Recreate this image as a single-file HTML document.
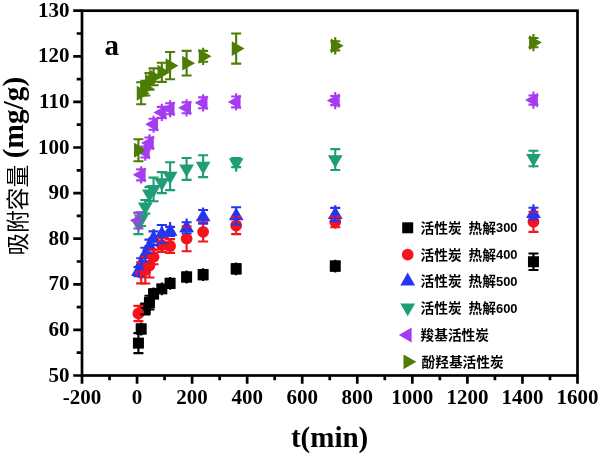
<!DOCTYPE html>
<html><head><meta charset="utf-8"><title>chart</title>
<style>html,body{margin:0;padding:0;background:#fff}svg{display:block;filter:blur(0.35px)}</style></head>
<body><svg width="600" height="455" viewBox="0 0 600 455">
<rect x="0" y="0" width="600" height="455" fill="#fff"/>
<g><rect x="132.93" y="337.62" width="11.00" height="11.00" fill="#000000"/><rect x="135.68" y="323.49" width="11.00" height="11.00" fill="#000000"/><rect x="139.81" y="303.42" width="11.00" height="11.00" fill="#000000"/><rect x="143.94" y="297.04" width="11.00" height="11.00" fill="#000000"/><rect x="148.07" y="288.38" width="11.00" height="11.00" fill="#000000"/><rect x="156.33" y="283.36" width="11.00" height="11.00" fill="#000000"/><rect x="164.59" y="277.89" width="11.00" height="11.00" fill="#000000"/><rect x="181.11" y="271.50" width="11.00" height="11.00" fill="#000000"/><rect x="197.62" y="269.22" width="11.00" height="11.00" fill="#000000"/><rect x="230.66" y="263.30" width="11.00" height="11.00" fill="#000000"/><rect x="329.76" y="260.56" width="11.00" height="11.00" fill="#000000"/><rect x="527.96" y="256.23" width="11.00" height="11.00" fill="#000000"/><circle cx="138.43" cy="313.48" r="5.90" fill="#f5141e"/><polygon points="138.43,263.13 131.03,275.93 145.83,275.93" fill="#2436f0"/><circle cx="141.18" cy="272.90" r="5.90" fill="#f5141e"/><polygon points="141.18,255.38 133.78,268.18 148.58,268.18" fill="#2436f0"/><circle cx="145.31" cy="270.16" r="5.90" fill="#f5141e"/><polygon points="145.31,246.26 137.91,259.06 152.71,259.06" fill="#2436f0"/><circle cx="149.44" cy="265.60" r="5.90" fill="#f5141e"/><polygon points="149.44,238.05 142.04,250.85 156.84,250.85" fill="#2436f0"/><circle cx="153.57" cy="256.94" r="5.90" fill="#f5141e"/><polygon points="153.57,229.84 146.17,242.64 160.97,242.64" fill="#2436f0"/><circle cx="161.83" cy="245.08" r="5.90" fill="#f5141e"/><polygon points="161.83,225.74 154.43,238.54 169.23,238.54" fill="#2436f0"/><circle cx="170.09" cy="246.00" r="5.90" fill="#f5141e"/><polygon points="170.09,223.00 162.69,235.80 177.49,235.80" fill="#2436f0"/><circle cx="186.61" cy="238.70" r="5.90" fill="#f5141e"/><polygon points="186.61,219.36 179.21,232.16 194.01,232.16" fill="#2436f0"/><circle cx="203.12" cy="231.86" r="5.90" fill="#f5141e"/><polygon points="203.12,208.41 195.72,221.21 210.52,221.21" fill="#2436f0"/><circle cx="236.16" cy="225.48" r="5.90" fill="#f5141e"/><polygon points="236.16,207.50 228.76,220.30 243.56,220.30" fill="#2436f0"/><circle cx="335.26" cy="221.83" r="5.90" fill="#f5141e"/><polygon points="335.26,206.13 327.86,218.93 342.66,218.93" fill="#2436f0"/><circle cx="533.46" cy="221.83" r="5.90" fill="#f5141e"/><polygon points="533.46,205.22 526.06,218.02 540.86,218.02" fill="#2436f0"/><polygon points="138.43,232.05 131.03,219.25 145.83,219.25" fill="#1f9d77"/><polygon points="141.18,227.49 133.78,214.69 148.58,214.69" fill="#1f9d77"/><polygon points="145.31,215.18 137.91,202.38 152.71,202.38" fill="#1f9d77"/><polygon points="149.44,202.41 142.04,189.61 156.84,189.61" fill="#1f9d77"/><polygon points="153.57,197.85 146.17,185.05 160.97,185.05" fill="#1f9d77"/><polygon points="161.83,191.01 154.43,178.21 169.23,178.21" fill="#1f9d77"/><polygon points="170.09,184.63 162.69,171.83 177.49,171.83" fill="#1f9d77"/><polygon points="186.61,177.33 179.21,164.53 194.01,164.53" fill="#1f9d77"/><polygon points="203.12,174.60 195.72,161.80 210.52,161.80" fill="#1f9d77"/><polygon points="236.16,170.95 228.76,158.15 243.56,158.15" fill="#1f9d77"/><polygon points="335.26,167.98 327.86,155.18 342.66,155.18" fill="#1f9d77"/><polygon points="533.46,166.84 526.06,154.04 540.86,154.04" fill="#1f9d77"/><polygon points="130.03,220.46 142.83,213.06 142.83,227.86" fill="#a63cf2"/><polygon points="132.78,174.86 145.58,167.46 145.58,182.26" fill="#a63cf2"/><polygon points="136.91,152.06 149.71,144.66 149.71,159.46" fill="#a63cf2"/><polygon points="141.04,142.94 153.84,135.54 153.84,150.34" fill="#a63cf2"/><polygon points="145.17,124.24 157.97,116.84 157.97,131.64" fill="#a63cf2"/><polygon points="153.43,112.39 166.23,104.99 166.23,119.79" fill="#a63cf2"/><polygon points="161.69,108.74 174.49,101.34 174.49,116.14" fill="#a63cf2"/><polygon points="178.21,107.83 191.01,100.43 191.01,115.23" fill="#a63cf2"/><polygon points="194.72,102.81 207.52,95.41 207.52,110.21" fill="#a63cf2"/><polygon points="227.76,101.90 240.56,94.50 240.56,109.30" fill="#a63cf2"/><polygon points="326.86,100.53 339.66,93.13 339.66,107.93" fill="#a63cf2"/><polygon points="525.06,100.08 537.86,92.68 537.86,107.48" fill="#a63cf2"/><polygon points="146.83,150.24 134.03,142.84 134.03,157.64" fill="#4e7d05"/><polygon points="149.58,93.24 136.78,85.84 136.78,100.64" fill="#4e7d05"/><polygon points="153.71,88.22 140.91,80.82 140.91,95.62" fill="#4e7d05"/><polygon points="157.84,81.38 145.04,73.98 145.04,88.78" fill="#4e7d05"/><polygon points="161.97,76.82 149.17,69.42 149.17,84.22" fill="#4e7d05"/><polygon points="170.23,72.26 157.43,64.86 157.43,79.66" fill="#4e7d05"/><polygon points="178.49,65.65 165.69,58.25 165.69,73.05" fill="#4e7d05"/><polygon points="195.01,63.14 182.21,55.74 182.21,70.54" fill="#4e7d05"/><polygon points="211.52,56.30 198.72,48.90 198.72,63.70" fill="#4e7d05"/><polygon points="244.56,48.55 231.76,41.15 231.76,55.95" fill="#4e7d05"/><polygon points="343.66,45.81 330.86,38.41 330.86,53.21" fill="#4e7d05"/><polygon points="541.86,42.62 529.06,35.22 529.06,50.02" fill="#4e7d05"/></g>
<g><path d="M138.43 333.09V353.16M133.43 333.09H143.43M133.43 353.16H143.43" stroke="#000000" stroke-width="2.1" fill="none"/><path d="M141.18 322.59V335.39M136.18 324.43H146.18M136.18 333.55H146.18" stroke="#000000" stroke-width="2.1" fill="none"/><path d="M145.31 302.52V315.32M140.31 303.45H150.31M140.31 314.40H150.31" stroke="#000000" stroke-width="2.1" fill="none"/><path d="M149.44 295.70V309.38M144.44 295.70H154.44M144.44 309.38H154.44" stroke="#000000" stroke-width="2.1" fill="none"/><path d="M153.57 287.48V300.28M148.57 289.32H158.57M148.57 298.44H158.57" stroke="#000000" stroke-width="2.1" fill="none"/><path d="M161.83 282.46V295.26M156.83 285.21H166.83M156.83 292.51H166.83" stroke="#000000" stroke-width="2.1" fill="none"/><path d="M170.09 276.99V289.79M165.09 278.83H175.09M165.09 287.95H175.09" stroke="#000000" stroke-width="2.1" fill="none"/><path d="M186.61 270.60V283.40M181.61 272.44H191.61M181.61 281.56H191.61" stroke="#000000" stroke-width="2.1" fill="none"/><path d="M203.12 268.32V281.12M198.12 270.16H208.12M198.12 279.28H208.12" stroke="#000000" stroke-width="2.1" fill="none"/><path d="M236.16 262.40V275.20M231.16 264.24H241.16M231.16 273.36H241.16" stroke="#000000" stroke-width="2.1" fill="none"/><path d="M335.26 259.66V272.46M330.26 261.50H340.26M330.26 270.62H340.26" stroke="#000000" stroke-width="2.1" fill="none"/><path d="M533.46 253.52V269.94M528.46 253.52H538.46M528.46 269.94H538.46" stroke="#000000" stroke-width="2.1" fill="none"/><path d="M138.43 305.87V321.10M133.43 305.87H143.43M133.43 321.10H143.43" stroke="#f5141e" stroke-width="2.1" fill="none"/><path d="M138.43 262.23V276.83M133.43 266.97H143.43M133.43 276.09H143.43" stroke="#2436f0" stroke-width="2.1" fill="none"/><path d="M141.18 262.41V283.39M136.18 262.41H146.18M136.18 283.39H146.18" stroke="#f5141e" stroke-width="2.1" fill="none"/><path d="M141.18 254.48V269.25M136.18 258.31H146.18M136.18 269.25H146.18" stroke="#2436f0" stroke-width="2.1" fill="none"/><path d="M145.31 256.76V283.57M140.31 256.76H150.31M140.31 283.57H150.31" stroke="#f5141e" stroke-width="2.1" fill="none"/><path d="M145.31 245.36V261.50M140.31 247.82H150.31M140.31 261.50H150.31" stroke="#2436f0" stroke-width="2.1" fill="none"/><path d="M149.44 253.75V277.46M144.44 253.75H154.44M144.44 277.46H154.44" stroke="#f5141e" stroke-width="2.1" fill="none"/><path d="M149.44 237.15V253.29M144.44 239.61H154.44M144.44 253.29H154.44" stroke="#2436f0" stroke-width="2.1" fill="none"/><path d="M153.57 249.64V264.24M148.57 249.64H158.57M148.57 264.24H158.57" stroke="#f5141e" stroke-width="2.1" fill="none"/><path d="M153.57 228.94V245.08M148.57 231.40H158.57M148.57 245.08H158.57" stroke="#2436f0" stroke-width="2.1" fill="none"/><path d="M161.83 238.24V251.92M156.83 238.24H166.83M156.83 251.92H166.83" stroke="#f5141e" stroke-width="2.1" fill="none"/><path d="M161.83 224.84V243.26M156.83 225.02H166.83M156.83 243.26H166.83" stroke="#2436f0" stroke-width="2.1" fill="none"/><path d="M170.09 239.16V252.84M165.09 239.16H175.09M165.09 252.84H175.09" stroke="#f5141e" stroke-width="2.1" fill="none"/><path d="M170.09 222.10V236.70M165.09 226.84H175.09M165.09 235.96H175.09" stroke="#2436f0" stroke-width="2.1" fill="none"/><path d="M186.61 226.21V251.19M181.61 226.21H191.61M181.61 251.19H191.61" stroke="#f5141e" stroke-width="2.1" fill="none"/><path d="M186.61 218.46V233.23M181.61 222.28H191.61M181.61 233.23H191.61" stroke="#2436f0" stroke-width="2.1" fill="none"/><path d="M203.12 222.28V241.44M198.12 222.28H208.12M198.12 241.44H208.12" stroke="#f5141e" stroke-width="2.1" fill="none"/><path d="M203.12 207.51V223.65M198.12 209.97H208.12M198.12 223.65H208.12" stroke="#2436f0" stroke-width="2.1" fill="none"/><path d="M236.16 216.81V234.14M231.16 216.81H241.16M231.16 234.14H241.16" stroke="#f5141e" stroke-width="2.1" fill="none"/><path d="M236.16 206.60V224.56M231.16 207.24H241.16M231.16 224.56H241.16" stroke="#2436f0" stroke-width="2.1" fill="none"/><path d="M335.26 215.03V228.63M330.26 216.36H340.26M330.26 227.30H340.26" stroke="#f5141e" stroke-width="2.1" fill="none"/><path d="M335.26 205.23V221.14M330.26 207.92H340.26M330.26 221.14H340.26" stroke="#2436f0" stroke-width="2.1" fill="none"/><path d="M533.46 211.80V231.86M528.46 211.80H538.46M528.46 231.86H538.46" stroke="#f5141e" stroke-width="2.1" fill="none"/><path d="M533.46 204.32V219.55M528.46 207.69H538.46M528.46 219.55H538.46" stroke="#2436f0" stroke-width="2.1" fill="none"/><path d="M138.43 213.16V234.14M133.43 213.16H143.43M133.43 234.14H143.43" stroke="#1f9d77" stroke-width="2.1" fill="none"/><path d="M141.18 212.25V228.39M136.18 212.25H146.18M136.18 225.93H146.18" stroke="#1f9d77" stroke-width="2.1" fill="none"/><path d="M145.31 199.94V216.08M140.31 199.94H150.31M140.31 213.62H150.31" stroke="#1f9d77" stroke-width="2.1" fill="none"/><path d="M149.44 187.17V203.31M144.44 187.17H154.44M144.44 200.85H154.44" stroke="#1f9d77" stroke-width="2.1" fill="none"/><path d="M153.57 177.60V201.31M148.57 177.60H158.57M148.57 201.31H158.57" stroke="#1f9d77" stroke-width="2.1" fill="none"/><path d="M161.83 172.12V193.10M156.83 172.12H166.83M156.83 193.10H166.83" stroke="#1f9d77" stroke-width="2.1" fill="none"/><path d="M170.09 162.32V190.14M165.09 162.32H175.09M165.09 190.14H175.09" stroke="#1f9d77" stroke-width="2.1" fill="none"/><path d="M186.61 157.99V179.88M181.61 157.99H191.61M181.61 179.88H191.61" stroke="#1f9d77" stroke-width="2.1" fill="none"/><path d="M203.12 155.25V177.14M198.12 155.25H208.12M198.12 177.14H208.12" stroke="#1f9d77" stroke-width="2.1" fill="none"/><path d="M236.16 157.25V171.85M231.16 157.99H241.16M231.16 167.11H241.16" stroke="#1f9d77" stroke-width="2.1" fill="none"/><path d="M335.26 149.10V170.07M330.26 149.10H340.26M330.26 170.07H340.26" stroke="#1f9d77" stroke-width="2.1" fill="none"/><path d="M533.46 150.69V167.74M528.46 150.69H538.46M528.46 166.20H538.46" stroke="#1f9d77" stroke-width="2.1" fill="none"/><path d="M138.43 211.86V229.06M133.43 212.48H143.43M133.43 228.44H143.43" stroke="#a63cf2" stroke-width="2.1" fill="none"/><path d="M141.18 166.26V183.46M136.18 169.39H146.18M136.18 180.33H146.18" stroke="#a63cf2" stroke-width="2.1" fill="none"/><path d="M145.31 143.46V160.66M140.31 146.59H150.31M140.31 157.53H150.31" stroke="#a63cf2" stroke-width="2.1" fill="none"/><path d="M149.44 134.34V151.54M144.44 137.47H154.44M144.44 148.41H154.44" stroke="#a63cf2" stroke-width="2.1" fill="none"/><path d="M153.57 115.64V132.84M148.57 118.77H158.57M148.57 129.72H158.57" stroke="#a63cf2" stroke-width="2.1" fill="none"/><path d="M161.83 103.79V120.99M156.83 106.92H166.83M156.83 117.86H166.83" stroke="#a63cf2" stroke-width="2.1" fill="none"/><path d="M170.09 100.14V117.34M165.09 103.27H175.09M165.09 114.21H175.09" stroke="#a63cf2" stroke-width="2.1" fill="none"/><path d="M186.61 99.23V116.43M181.61 102.36H191.61M181.61 113.30H191.61" stroke="#a63cf2" stroke-width="2.1" fill="none"/><path d="M203.12 94.21V111.41M198.12 97.34H208.12M198.12 108.28H208.12" stroke="#a63cf2" stroke-width="2.1" fill="none"/><path d="M236.16 93.30V110.50M231.16 96.43H241.16M231.16 107.37H241.16" stroke="#a63cf2" stroke-width="2.1" fill="none"/><path d="M335.26 91.93V109.13M330.26 95.97H340.26M330.26 105.09H340.26" stroke="#a63cf2" stroke-width="2.1" fill="none"/><path d="M533.46 91.48V108.68M528.46 95.52H538.46M528.46 104.64H538.46" stroke="#a63cf2" stroke-width="2.1" fill="none"/><path d="M138.43 139.29V161.18M133.43 139.29H143.43M133.43 161.18H143.43" stroke="#4e7d05" stroke-width="2.1" fill="none"/><path d="M141.18 82.29V104.18M136.18 82.29H146.18M136.18 104.18H146.18" stroke="#4e7d05" stroke-width="2.1" fill="none"/><path d="M145.31 79.62V96.82M140.31 80.92H150.31M140.31 95.52H150.31" stroke="#4e7d05" stroke-width="2.1" fill="none"/><path d="M149.44 72.78V89.98M144.44 73.17H154.44M144.44 89.59H154.44" stroke="#4e7d05" stroke-width="2.1" fill="none"/><path d="M153.57 68.22V85.42M148.57 68.38H158.57M148.57 85.26H158.57" stroke="#4e7d05" stroke-width="2.1" fill="none"/><path d="M161.83 62.68V81.84M156.83 62.68H166.83M156.83 81.84H166.83" stroke="#4e7d05" stroke-width="2.1" fill="none"/><path d="M170.09 52.06V79.24M165.09 52.06H175.09M165.09 79.24H175.09" stroke="#4e7d05" stroke-width="2.1" fill="none"/><path d="M186.61 50.83V75.45M181.61 50.83H191.61M181.61 75.45H191.61" stroke="#4e7d05" stroke-width="2.1" fill="none"/><path d="M203.12 47.70V64.90M198.12 50.83H208.12M198.12 61.77H208.12" stroke="#4e7d05" stroke-width="2.1" fill="none"/><path d="M236.16 33.50V63.60M231.16 33.50H241.16M231.16 63.60H241.16" stroke="#4e7d05" stroke-width="2.1" fill="none"/><path d="M335.26 37.21V54.41M330.26 41.25H340.26M330.26 50.37H340.26" stroke="#4e7d05" stroke-width="2.1" fill="none"/><path d="M533.46 34.02V51.22M528.46 38.06H538.46M528.46 47.18H538.46" stroke="#4e7d05" stroke-width="2.1" fill="none"/></g>
<rect x="82.0" y="10.7" width="495.5" height="364.8" fill="none" stroke="#000" stroke-width="2.7"/>
<path d="M82.0 375.50h-8.8M82.0 352.70h-5.3M82.0 329.90h-8.8M82.0 307.10h-5.3M82.0 284.30h-8.8M82.0 261.50h-5.3M82.0 238.70h-8.8M82.0 215.90h-5.3M82.0 193.10h-8.8M82.0 170.30h-5.3M82.0 147.50h-8.8M82.0 124.70h-5.3M82.0 101.90h-8.8M82.0 79.10h-5.3M82.0 56.30h-8.8M82.0 33.50h-5.3M82.0 10.70h-8.8M82.00 375.5v8.3M109.53 375.5v4.8M137.06 375.5v8.3M164.58 375.5v4.8M192.11 375.5v8.3M219.64 375.5v4.8M247.17 375.5v8.3M274.69 375.5v4.8M302.22 375.5v8.3M329.75 375.5v4.8M357.28 375.5v8.3M384.81 375.5v4.8M412.33 375.5v8.3M439.86 375.5v4.8M467.39 375.5v8.3M494.92 375.5v4.8M522.44 375.5v8.3M549.97 375.5v4.8M577.50 375.5v8.3" stroke="#000" stroke-width="2.7" fill="none"/>
<g font-family="Liberation Serif, serif" font-weight="bold" font-size="21" fill="#000"><text x="69.4" y="381.50" text-anchor="end">50</text><text x="69.4" y="335.90" text-anchor="end">60</text><text x="69.4" y="290.30" text-anchor="end">70</text><text x="69.4" y="244.70" text-anchor="end">80</text><text x="69.4" y="199.10" text-anchor="end">90</text><text x="69.4" y="153.50" text-anchor="end">100</text><text x="69.4" y="107.90" text-anchor="end">110</text><text x="69.4" y="62.30" text-anchor="end">120</text><text x="69.4" y="16.70" text-anchor="end">130</text><text x="82.00" y="404.0" text-anchor="middle">-200</text><text x="137.06" y="404.0" text-anchor="middle">0</text><text x="192.11" y="404.0" text-anchor="middle">200</text><text x="247.17" y="404.0" text-anchor="middle">400</text><text x="302.22" y="404.0" text-anchor="middle">600</text><text x="357.28" y="404.0" text-anchor="middle">800</text><text x="412.33" y="404.0" text-anchor="middle">1000</text><text x="467.39" y="404.0" text-anchor="middle">1200</text><text x="522.44" y="404.0" text-anchor="middle">1400</text><text x="577.50" y="404.0" text-anchor="middle">1600</text></g>
<text x="329.6" y="446.8" text-anchor="middle" font-family="Liberation Serif, serif" font-weight="bold" font-size="29" fill="#000">t(min)</text>
<text x="104.6" y="54.8" font-family="Liberation Serif, serif" font-weight="bold" font-size="29" fill="#000">a</text>
<g transform="translate(25.6 255.5) rotate(-90)"><text x="0" y="0" font-family="Liberation Sans, 'Noto Sans CJK SC', sans-serif" font-size="22.7" fill="#000">吸附容量</text><text x="97.3" y="-3.0" font-family="Liberation Serif, serif" font-weight="bold" font-size="29.3" fill="#000">(mg/g)</text></g>
<rect x="402.20" y="222.30" width="11.00" height="11.00" fill="#000000"/>
<text x="420.5" y="232.8" font-family="Liberation Sans, 'Noto Sans CJK SC', sans-serif" font-weight="bold" font-size="13.7" fill="#000">活性炭</text>
<text x="468.45" y="232.8" font-family="Liberation Sans, 'Noto Sans CJK SC', sans-serif" font-weight="bold" font-size="13.7" fill="#000">热解</text>
<text x="495.95" y="232.4" font-family="Liberation Sans, 'Noto Sans CJK SC', sans-serif" font-weight="bold" font-size="12.3" textLength="21.6" lengthAdjust="spacingAndGlyphs" fill="#000">300</text>
<circle cx="407.70" cy="254.60" r="5.90" fill="#f5141e"/>
<text x="420.5" y="259.6" font-family="Liberation Sans, 'Noto Sans CJK SC', sans-serif" font-weight="bold" font-size="13.7" fill="#000">活性炭</text>
<text x="468.45" y="259.6" font-family="Liberation Sans, 'Noto Sans CJK SC', sans-serif" font-weight="bold" font-size="13.7" fill="#000">热解</text>
<text x="495.95" y="259.2" font-family="Liberation Sans, 'Noto Sans CJK SC', sans-serif" font-weight="bold" font-size="12.3" textLength="21.6" lengthAdjust="spacingAndGlyphs" fill="#000">400</text>
<polygon points="407.70,272.60 400.30,285.40 415.10,285.40" fill="#2436f0"/>
<text x="420.5" y="286.4" font-family="Liberation Sans, 'Noto Sans CJK SC', sans-serif" font-weight="bold" font-size="13.7" fill="#000">活性炭</text>
<text x="468.45" y="286.4" font-family="Liberation Sans, 'Noto Sans CJK SC', sans-serif" font-weight="bold" font-size="13.7" fill="#000">热解</text>
<text x="495.95" y="286.0" font-family="Liberation Sans, 'Noto Sans CJK SC', sans-serif" font-weight="bold" font-size="12.3" textLength="21.6" lengthAdjust="spacingAndGlyphs" fill="#000">500</text>
<polygon points="407.70,316.30 400.30,303.50 415.10,303.50" fill="#1f9d77"/>
<text x="420.5" y="313.2" font-family="Liberation Sans, 'Noto Sans CJK SC', sans-serif" font-weight="bold" font-size="13.7" fill="#000">活性炭</text>
<text x="468.45" y="313.2" font-family="Liberation Sans, 'Noto Sans CJK SC', sans-serif" font-weight="bold" font-size="13.7" fill="#000">热解</text>
<text x="495.95" y="312.8" font-family="Liberation Sans, 'Noto Sans CJK SC', sans-serif" font-weight="bold" font-size="12.3" textLength="21.6" lengthAdjust="spacingAndGlyphs" fill="#000">600</text>
<polygon points="398.80,335.00 411.60,327.60 411.60,342.40" fill="#a63cf2"/>
<text x="420.5" y="340.0" font-family="Liberation Sans, 'Noto Sans CJK SC', sans-serif" font-weight="bold" font-size="13.7" fill="#000">羧基活性炭</text>
<polygon points="416.30,361.80 403.50,354.40 403.50,369.20" fill="#4e7d05"/>
<text x="421.5" y="367.2" font-family="Liberation Sans, 'Noto Sans CJK SC', sans-serif" font-weight="bold" font-size="13.7" fill="#000">酚羟基活性炭</text>
</svg></body></html>
